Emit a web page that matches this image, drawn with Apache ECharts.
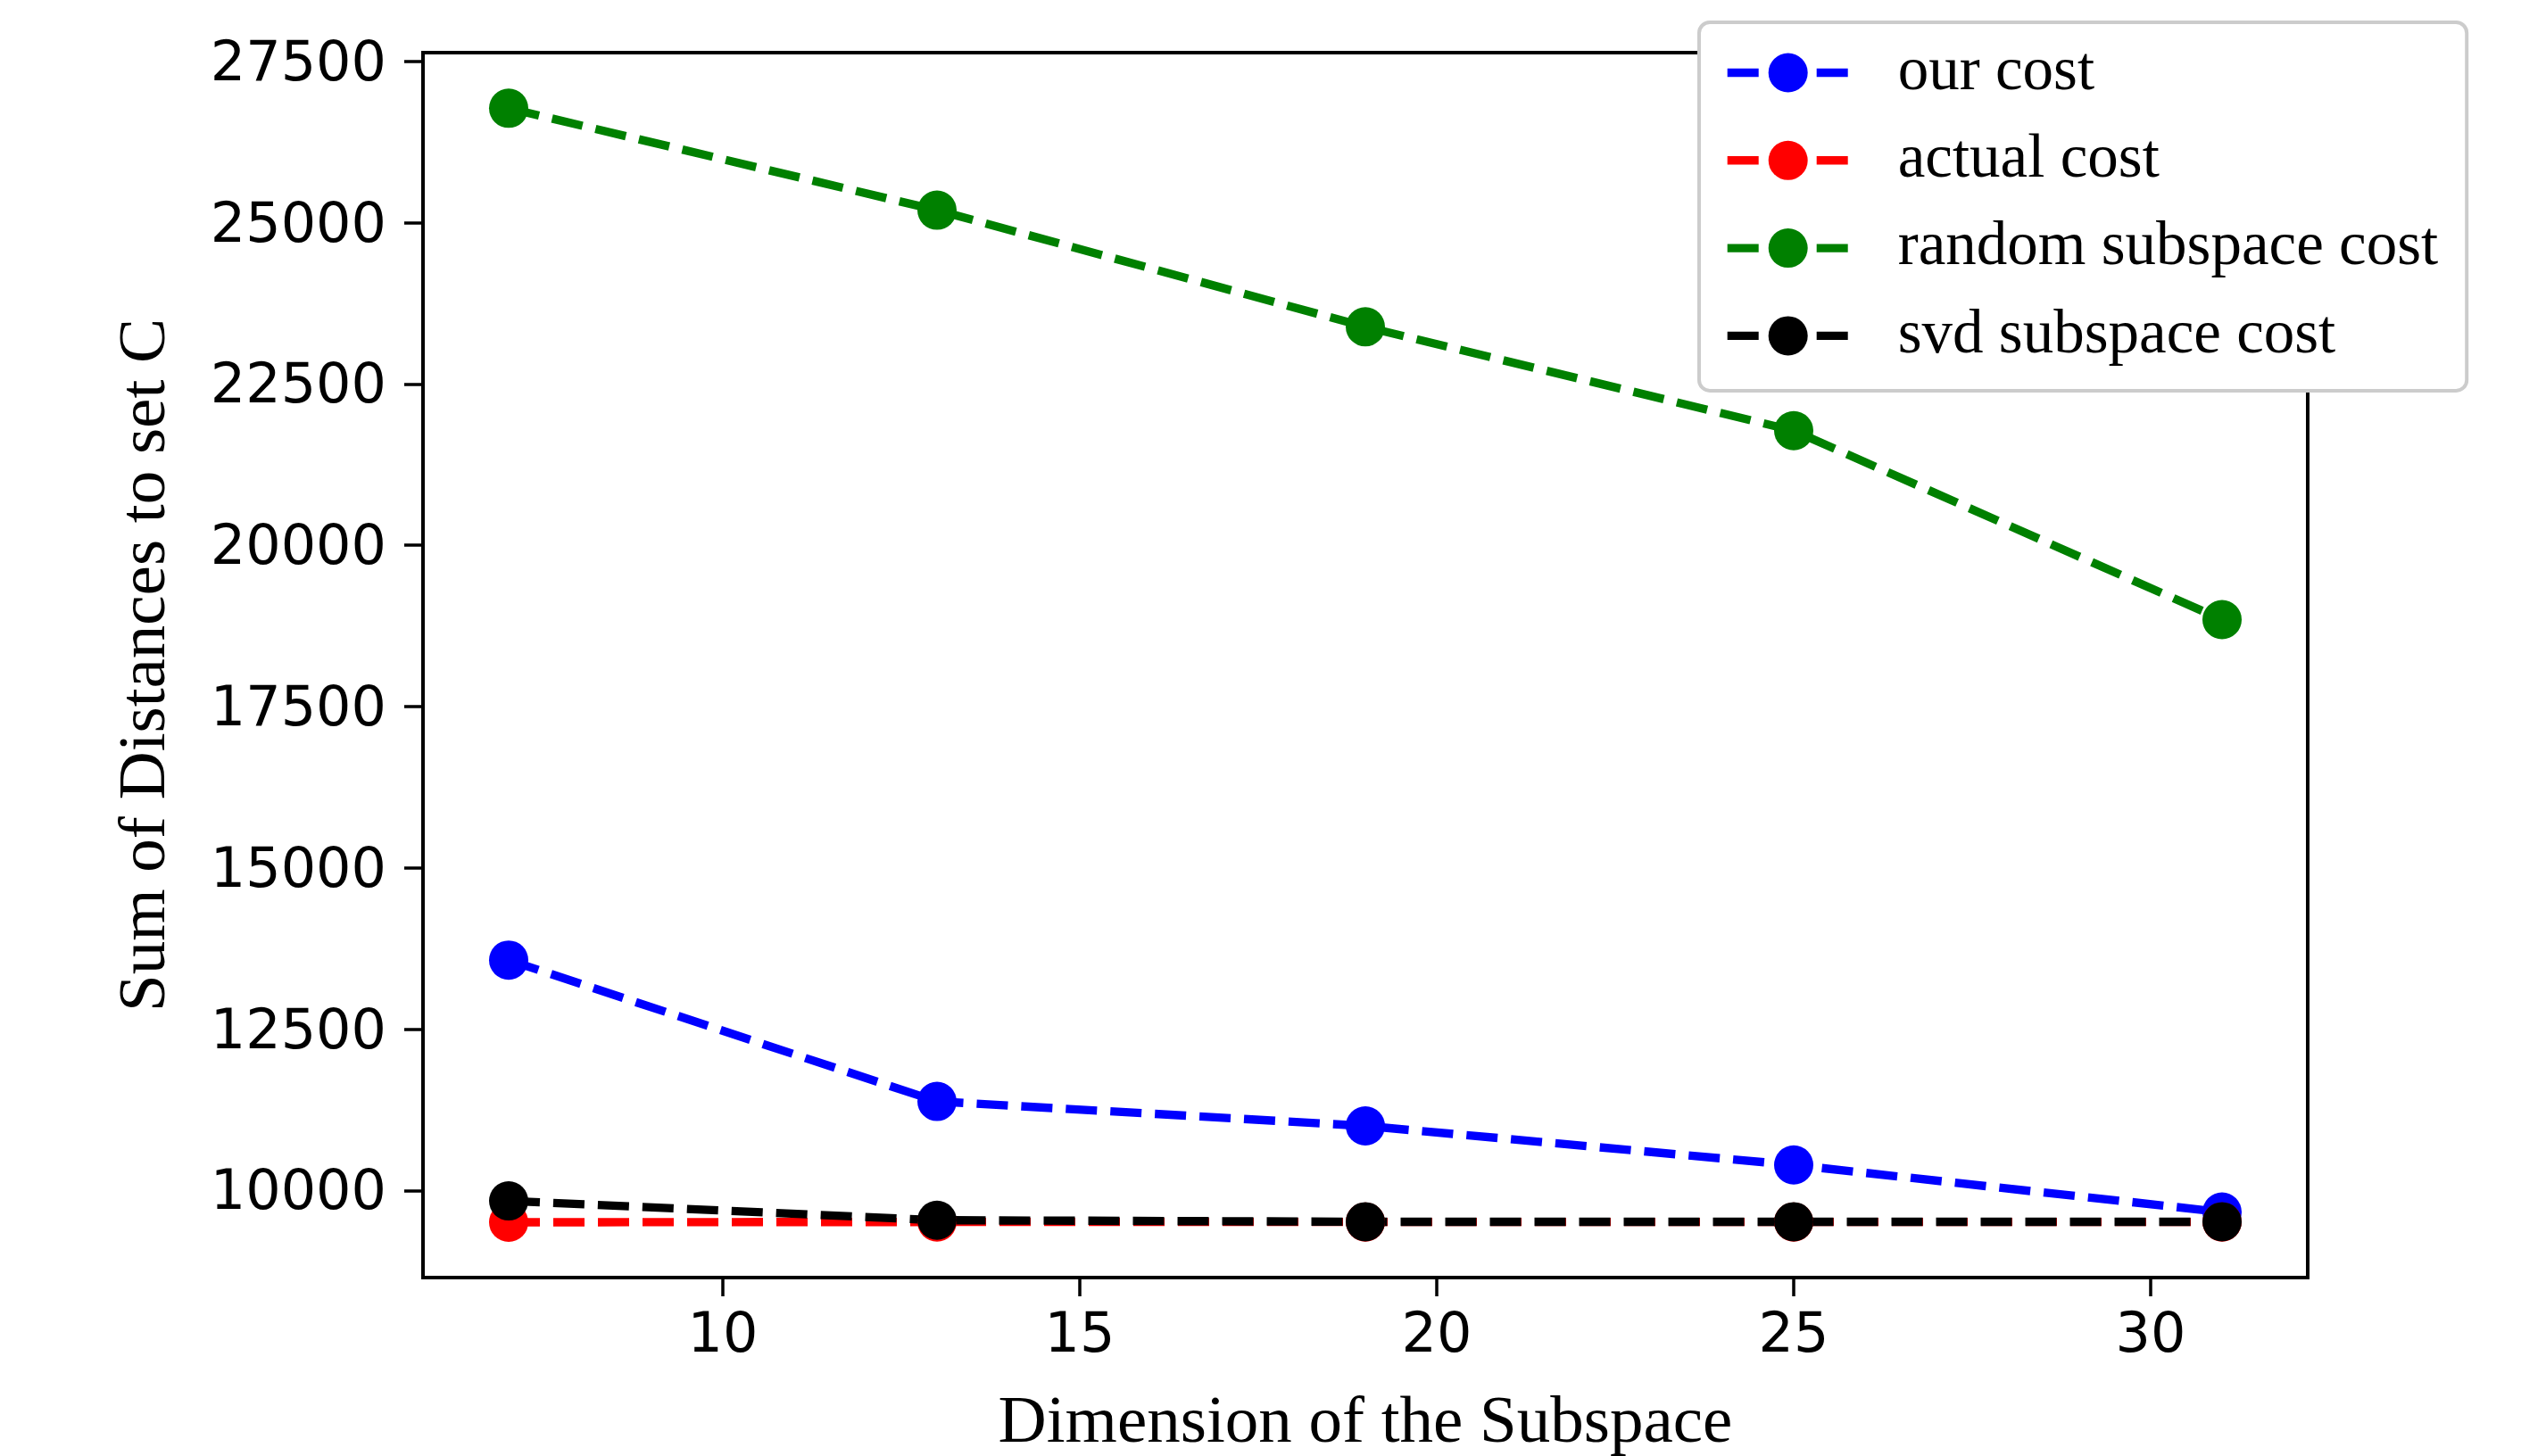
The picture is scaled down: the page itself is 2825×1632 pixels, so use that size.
<!DOCTYPE html>
<html>
<head>
<meta charset="utf-8">
<script src="https://cdn.jsdelivr.net/npm/echarts@6/dist/echarts.min.js"></script>
<style>
html,body{margin:0;padding:0;background:#fff;}
#chart{width:2825px;height:1632px;}
</style>
</head>
<body>
<div id="chart"></div>
<script>
// ---- data ----
var dims = [7, 13, 19, 25, 31];
var ourCost = [13570, 11380, 11000, 10395, 9665];
var actualCost = [9507, 9512, 9512, 9512, 9512];
var randomCost = [26772, 25192, 23385, 21775, 18847];
var svdCost = [9838, 9539, 9515, 9515, 9515];
var xTicks = [10, 15, 20, 25, 30];
var yTicks = [10000, 12500, 15000, 17500, 20000, 22500, 25000, 27500];
var seriesNames = ['our cost', 'actual cost', 'random subspace cost', 'svd subspace cost'];
var seriesColors = ['#0000ff', '#ff0000', '#008000', '#000000'];
var xTitle = 'Dimension of the Subspace';
var yTitle = 'Sum of Distances to set C';

function pairs(xs, ys) { return xs.map(function (x, i) { return [x, ys[i]]; }); }
var allValues = [ourCost, actualCost, randomCost, svdCost];

var chart = echarts.init(document.getElementById('chart'), null, {renderer: 'canvas'});
var serif = "'Liberation Serif', 'Times New Roman', serif";
var sans = "'DejaVu Sans', sans-serif";

var series = seriesNames.map(function (name, i) {
  return {
    name: name,
    type: 'line',
    data: pairs(dims, allValues[i]),
    symbol: 'circle',
    symbolSize: 44,
    showSymbol: true,
    color: seriesColors[i],
    itemStyle: {color: seriesColors[i]},
    lineStyle: {color: seriesColors[i], width: 9.4, type: [35, 15], cap: 'butt'},
    emphasis: {disabled: true},
    animation: false
  };
});

chart.setOption({
  animation: false,
  grid: {
    left: 474, top: 59, right: 239, bottom: 200,
    outerBoundsMode: 'none',
    containLabel: false,
    show: true, borderColor: '#000', borderWidth: 4, backgroundColor: 'transparent'
  },
  legend: {
    data: seriesNames,
    orient: 'vertical',
    left: 1904, top: 25,
    padding: [22, 32, 27, 27],
    itemWidth: 136,
    itemHeight: 55,
    itemGap: 29.3,
    backgroundColor: '#ffffff',
    borderColor: '#cccccc',
    borderWidth: 4,
    borderRadius: 12,
    selectedMode: false,
    lineStyle: {width: 9.4},
    textStyle: {fontFamily: serif, fontSize: 69, color: '#000', padding: [0, 0, 0, 50]}
  },
  xAxis: {
    type: 'value',
    min: 5.8, max: 32.2,
    name: xTitle,
    nameLocation: 'middle',
    nameGap: 127,
    nameTextStyle: {fontFamily: serif, fontSize: 75, color: '#000'},
    splitLine: {show: false},
    axisLine: {show: true, onZero: false, lineStyle: {color: '#000', width: 4}},
    axisTick: {show: true, inside: false, length: 21, customValues: xTicks, lineStyle: {color: '#000', width: 3.5}},
    axisLabel: {show: true, customValues: xTicks, margin: 36, fontFamily: sans, fontSize: 62, color: '#000',
      formatter: function (v) { return String(v); }}
  },
  yAxis: {
    type: 'value',
    min: 8650, max: 27634,
    name: yTitle,
    nameLocation: 'middle',
    nameGap: 272,
    nameRotate: 90,
    nameTextStyle: {fontFamily: serif, fontSize: 75, color: '#000'},
    splitLine: {show: false},
    axisLine: {show: true, onZero: false, lineStyle: {color: '#000', width: 4}},
    axisTick: {show: true, inside: false, length: 21, customValues: yTicks, lineStyle: {color: '#000', width: 3.5}},
    axisLabel: {show: true, customValues: yTicks, margin: 41, fontFamily: sans, fontSize: 62, color: '#000',
      formatter: function (v) { return '{a|' + v + '}'; },
      rich: {a: {fontFamily: sans, fontSize: 62, color: '#000', lineHeight: 62, padding: [10, 0, 0, 0]}}}
  },
  series: series
});
</script>
</body>
</html>
